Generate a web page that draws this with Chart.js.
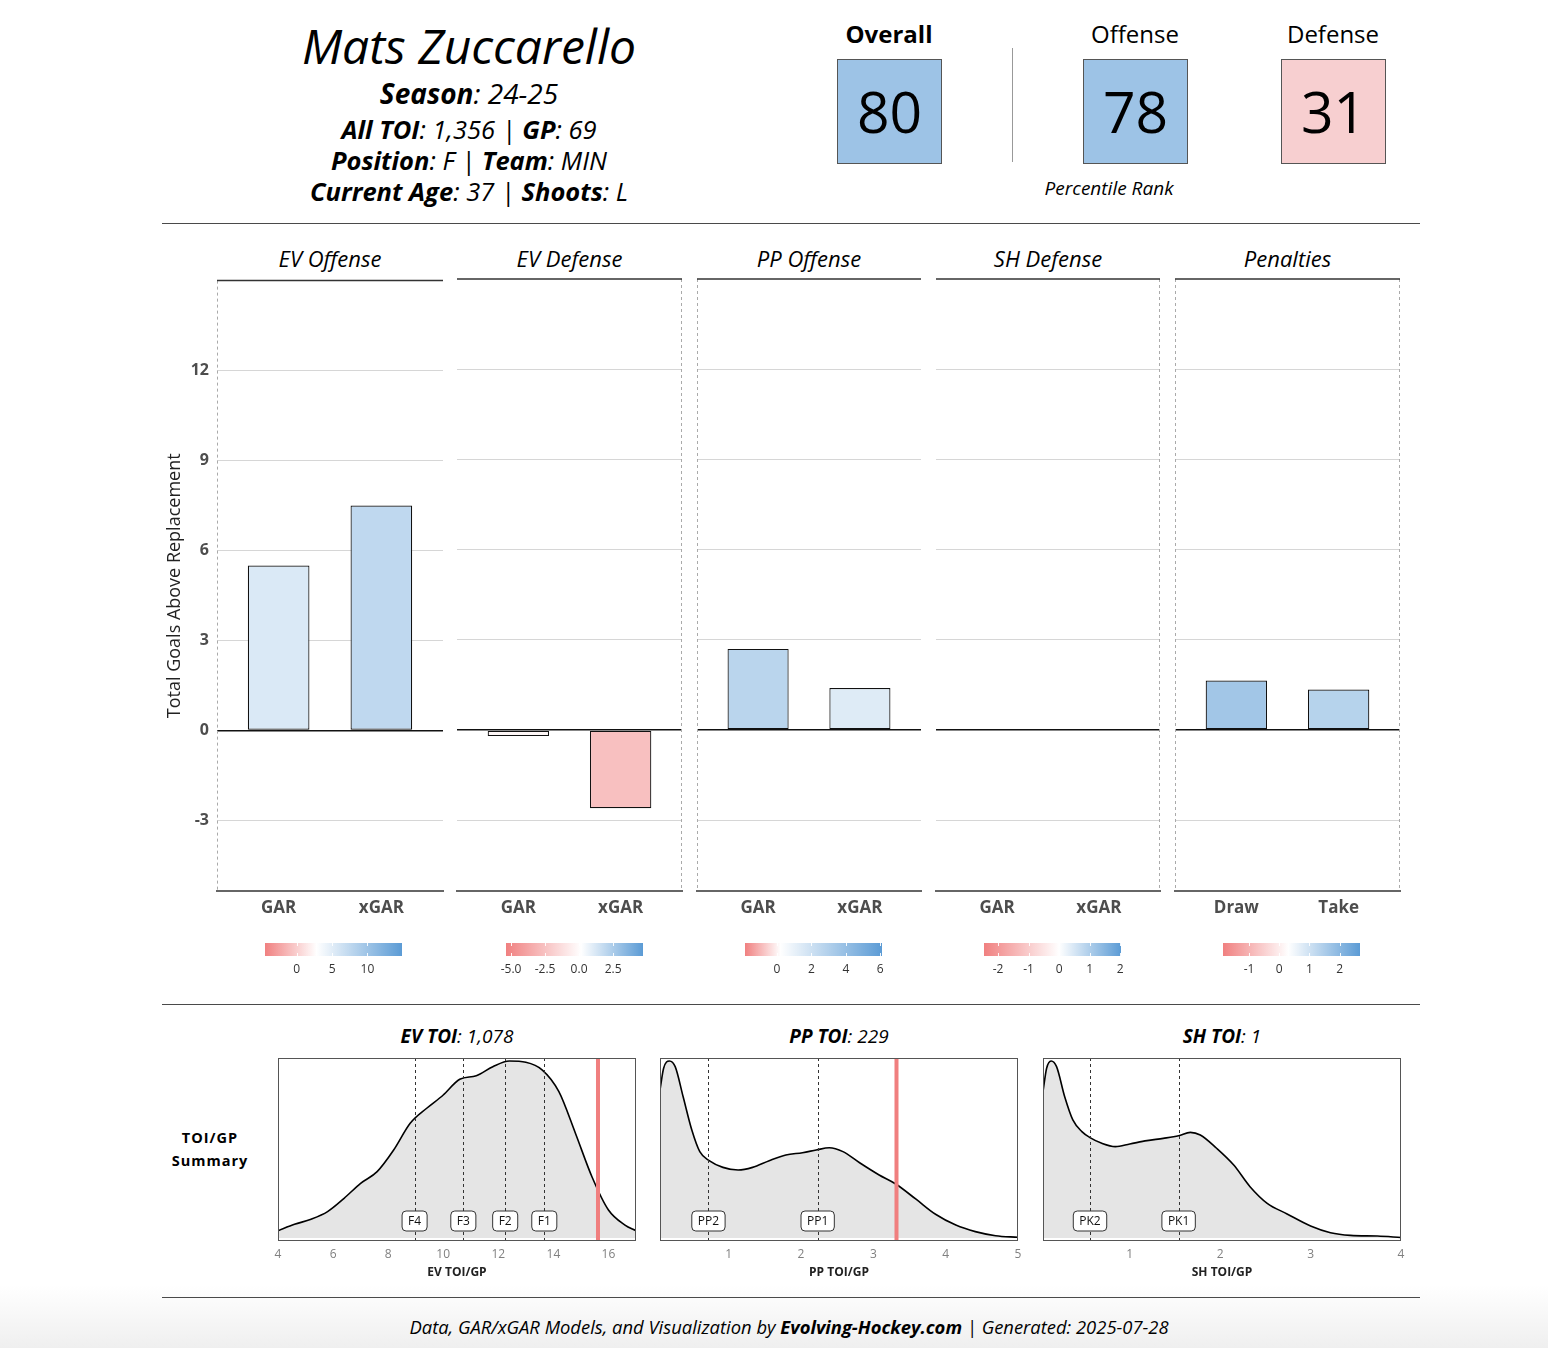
<!DOCTYPE html>
<html>
<head>
<meta charset="utf-8">
<script src="https://cdn.jsdelivr.net/npm/chart.js@4.4.0/dist/chart.umd.min.js"></script>
<style>
html, body { margin: 0; padding: 0; }
body {
  width: 1548px; height: 1348px; position: relative; overflow: hidden;
  font-family: 'Open Sans', sans-serif; color: #000;
  background: linear-gradient(to bottom, #fff 0, #fff 1285px, #efefef 1348px);
}
.c { position: absolute; transform: translateX(-50%); white-space: nowrap; line-height: 1; }
.i { font-style: italic; }
.hl { position: absolute; left: 162px; width: 1258px; height: 0; border-top: 1.5px solid #4a4a4a; }
.box { position: absolute; width: 105px; height: 105px; box-sizing: border-box; border: 1px solid #555;
  display: flex; align-items: center; justify-content: center; font-size: 57px; line-height: 1; }
canvas { position: absolute; }
</style>
</head>
<body>

<div class="c i" style="left:469px;top:22px;font-size:48px;">Mats Zuccarello</div>
<div class="c i" style="left:469px;top:79px;font-size:28px;"><b>Season</b>: 24-25</div>
<div class="c i" style="left:469px;top:117px;font-size:25.5px;"><b>All TOI</b>: 1,356 | <b>GP</b>: 69</div>
<div class="c i" style="left:469px;top:148px;font-size:25.5px;"><b>Position</b>: F | <b>Team</b>: MIN</div>
<div class="c i" style="left:469px;top:179px;font-size:25.5px;"><b>Current Age</b>: 37 | <b>Shoots</b>: L</div>

<div id="ranks"></div>
<div style="position:absolute;left:1012px;top:48px;width:0;height:114px;border-left:1.5px solid #999;"></div>
<div class="c i" style="left:1109px;top:179px;font-size:19px;">Percentile Rank</div>

<div class="hl" style="top:223px;"></div>
<div id="strips"></div>
<div class="hl" style="top:1004px;"></div>

<div class="c" style="left:210px;top:1131px;font-size:14.5px;font-weight:bold;letter-spacing:1px;">TOI/GP</div>
<div class="c" style="left:210px;top:1154px;font-size:14.5px;font-weight:bold;letter-spacing:1px;">Summary</div>
<div class="c i" style="left:457px;top:1027px;font-size:19px;"><b>EV TOI</b>: 1,078</div>
<div class="c i" style="left:839px;top:1027px;font-size:19px;"><b>PP TOI</b>: 229</div>
<div class="c i" style="left:1222px;top:1027px;font-size:19px;"><b>SH TOI</b>: 1</div>

<div class="hl" style="top:1297px;"></div>
<div class="c i" style="left:789px;top:1318px;font-size:18.4px;">Data, GAR/xGAR Models, and Visualization by <b>Evolving-Hockey.com</b> | Generated: 2025-07-28</div>

<script>
// percentile ranks
const rankLabels = ['Overall', 'Offense', 'Defense'];
const rankValues = [80, 78, 31];

// GAR components
const panelTitles = ['EV Offense', 'EV Defense', 'PP Offense', 'SH Defense', 'Penalties'];
const panelCats = [['GAR', 'xGAR'], ['GAR', 'xGAR'], ['GAR', 'xGAR'], ['GAR', 'xGAR'], ['Draw', 'Take']];
const evOffense = [5.5, 7.5];
const evDefense = [-0.2, -2.6];
const ppOffense = [2.7, 1.4];
const shDefense = [0.03, 0.02];
const penalties = [1.65, 1.35];
const yTicks = [-3, 0, 3, 6, 9, 12];

// colour legends: low end, white point, high end
const scaleMin = [-4.5, -5.37, -1.86, -2.46, -1.86];
const scaleMid = [2.8, 0.15, 0.2, 0, 0.3];
const scaleMax = [14.9, 4.7, 6.1, 2.03, 2.67];
const scaleTicks = [[0, 5, 10], [-5, -2.5, 0, 2.5], [0, 2, 4, 6], [-2, -1, 0, 1, 2], [-1, 0, 1, 2]];
const scaleTickLabels = [['0', '5', '10'], ['-5.0', '-2.5', '0.0', '2.5'], ['0', '2', '4', '6'], ['-2', '-1', '0', '1', '2'], ['-1', '0', '1', '2']];

// TOI/GP densities
const evToiX = [4.0, 4.6, 5.2, 5.8, 6.4, 7.0, 7.6, 8.2, 8.8, 9.4, 10.0, 10.6, 11.2, 11.8, 12.4, 13.0, 13.6, 14.2, 14.8, 15.4, 16.0, 16.6, 17.0];
const evDensity = [0.041, 0.077, 0.106, 0.149, 0.224, 0.309, 0.375, 0.497, 0.648, 0.733, 0.808, 0.897, 0.917, 0.968, 1.0, 0.993, 0.949, 0.827, 0.592, 0.346, 0.158, 0.073, 0.041];
const evTicks = [4, 6, 8, 10, 12, 14, 16];
const evLineLabels = ['F4', 'F3', 'F2', 'F1'];
const evLineValues = [8.96, 10.73, 12.25, 13.67];
const evPlayer = 15.62;

const ppToiX = [0.05, 0.10, 0.18, 0.26, 0.37, 0.49, 0.60, 0.73, 0.92, 1.13, 1.33, 1.56, 1.79, 2.02, 2.21, 2.39, 2.58, 2.81, 3.08, 3.31, 3.59, 3.86, 4.14, 4.41, 4.69, 5.0];
const ppDensity = [0.836, 0.959, 1.0, 0.968, 0.798, 0.610, 0.488, 0.437, 0.399, 0.384, 0.399, 0.437, 0.469, 0.482, 0.497, 0.510, 0.488, 0.425, 0.356, 0.305, 0.219, 0.134, 0.073, 0.036, 0.013, 0.004];
const ppTicks = [1, 2, 3, 4, 5];
const ppLineLabels = ['PP2', 'PP1'];
const ppLineValues = [0.72, 2.23];
const ppPlayer = 3.32;

const shToiX = [0.04, 0.08, 0.13, 0.19, 0.28, 0.37, 0.47, 0.56, 0.69, 0.84, 1.00, 1.19, 1.37, 1.54, 1.67, 1.78, 1.96, 2.15, 2.33, 2.52, 2.74, 3.00, 3.22, 3.44, 3.74, 4.00];
const shDensity = [0.827, 0.959, 1.0, 0.968, 0.798, 0.667, 0.601, 0.567, 0.535, 0.516, 0.531, 0.550, 0.563, 0.578, 0.597, 0.582, 0.507, 0.412, 0.290, 0.196, 0.136, 0.068, 0.030, 0.015, 0.011, 0.003];
const shTicks = [1, 2, 3, 4];
const shLineLabels = ['PK2', 'PK1'];
const shLineValues = [0.56, 1.54];
const shPlayer = 0.014;

Chart.defaults.font.family = "'Open Sans', sans-serif";

const redEnd = [240, 128, 128];
const blueEnd = [91, 155, 213];
function scaleColor(i, v) {
  const mid = scaleMid[i];
  let t, end;
  if (v >= mid) { t = Math.min(1, (v - mid) / (scaleMax[i] - mid)); end = blueEnd; }
  else { t = Math.min(1, (mid - v) / (mid - scaleMin[i])); end = redEnd; }
  const c = end.map(e => Math.round(255 + (e - 255) * t));
  return 'rgb(' + c.join(',') + ')';
}

function makeCanvas(left, top, w, h) {
  const cv = document.createElement('canvas');
  cv.width = w; cv.height = h;
  cv.style.left = left + 'px'; cv.style.top = top + 'px';
  cv.style.width = w + 'px'; cv.style.height = h + 'px';
  document.body.appendChild(cv);
  return cv;
}

// header rank boxes
const rankX = [889, 1135, 1333];
const ranks = document.getElementById('ranks');
rankLabels.forEach((lab, k) => {
  const t = document.createElement('div');
  t.className = 'c';
  t.style.cssText = 'left:' + rankX[k] + 'px;top:22px;font-size:24px;' + (k === 0 ? 'font-weight:bold;' : '');
  t.textContent = lab;
  ranks.appendChild(t);
  const b = document.createElement('div');
  b.className = 'box';
  b.style.left = (rankX[k] - 52) + 'px';
  b.style.top = '59px';
  b.style.background = rankValues[k] >= 50 ? '#9dc3e6' : '#f7cfd0';
  b.textContent = rankValues[k];
  ranks.appendChild(b);
});

// bar panels
const panelLeft = [217, 457, 697, 936, 1175];
const panelRight = [443, 682, 921, 1160, 1400];
const dashedSides = [[true, false], [false, true], [true, false], [false, true], [true, true]];
const panelValues = [evOffense, evDefense, ppOffense, shDefense, penalties];

const strips = document.getElementById('strips');
panelTitles.forEach((t, i) => {
  const d = document.createElement('div');
  d.className = 'c i';
  d.style.cssText = 'left:' + ((panelLeft[i] + panelRight[i]) / 2) + 'px;top:247px;font-size:22px;';
  d.textContent = t;
  strips.appendChild(d);
});

function framePlugin(sides) {
  return {
    id: 'frame',
    afterDraw(chart) {
      const ctx = chart.ctx, a = chart.chartArea;
      ctx.save();
      ctx.strokeStyle = '#aaaaaa';
      ctx.lineWidth = 1;
      ctx.setLineDash([3, 3]);
      if (sides[0]) { ctx.beginPath(); ctx.moveTo(a.left + 0.5, a.top); ctx.lineTo(a.left + 0.5, a.bottom); ctx.stroke(); }
      if (sides[1]) { ctx.beginPath(); ctx.moveTo(a.right - 0.5, a.top); ctx.lineTo(a.right - 0.5, a.bottom); ctx.stroke(); }
      ctx.setLineDash([]);
      ctx.strokeStyle = '#333';
      ctx.lineWidth = 1.5;
      ctx.beginPath(); ctx.moveTo(a.left, a.top); ctx.lineTo(a.right, a.top); ctx.stroke();
      ctx.restore();
    }
  };
}

function barPanel(i) {
  const first = i === 0;
  const axisW = first ? 53 : 0;
  const padL = 2, padR = 2, padT = 16, axisH = 40;
  const L = panelLeft[i], R = panelRight[i];
  const cv = makeCanvas(L - axisW - padL, 279 - padT, (R - L) + axisW + padL + padR, padT + 612 + axisH);
  const vals = panelValues[i];
  const cats = panelCats[i];
  new Chart(cv, {
    type: 'bar',
    data: {
      datasets: [{
        data: vals.map((v, k) => ({ x: k + 1, y: v })),
        backgroundColor: vals.map(v => scaleColor(i, v)),
        borderColor: '#111',
        borderWidth: 1.2,
        borderSkipped: false,
        barPercentage: 0.6,
        categoryPercentage: 1
      }]
    },
    options: {
      responsive: false,
      animation: false,
      events: [],
      layout: { padding: { left: padL, right: padR, top: padT, bottom: 0 } },
      plugins: { legend: { display: false }, tooltip: { enabled: false } },
      scales: {
        x: {
          type: 'linear', min: 0.4, max: 2.6, offset: false,
          afterBuildTicks: s => { s.ticks = [{ value: 1 }, { value: 2 }]; },
          ticks: { callback: v => cats[v - 1], font: { size: 17, weight: 'bold' }, color: '#4d4d4d', padding: 7, maxRotation: 0, autoSkip: false },
          grid: { display: false, drawTicks: false },
          border: { display: true, color: '#666', width: 2 },
          afterFit: s => { s.height = axisH; }
        },
        y: {
          type: 'linear', min: -5.35, max: 15,
          afterBuildTicks: s => { s.ticks = yTicks.map(v => ({ value: v })); },
          ticks: { display: first, font: { size: 16, weight: 'bold' }, color: '#4d4d4d', padding: 8 },
          grid: {
            drawTicks: false,
            color: c => c.tick.value === 0 ? '#111' : '#d6d6d6',
            lineWidth: c => c.tick.value === 0 ? 1.6 : 1
          },
          border: { display: false },
          title: { display: first, text: 'Total Goals Above Replacement', font: { size: 18 }, color: '#222', padding: 0 },
          afterFit: s => { s.width = axisW; }
        }
      }
    },
    plugins: [framePlugin(dashedSides[i])]
  });
}

// colour legends
const legendLeft = [265, 506, 745, 984, 1223];
function colorBar(i) {
  const W = 137, pad = 12, barH = 13, axisH = 24;
  const cv = makeCanvas(legendLeft[i] - pad, 943, W + 2 * pad, barH + axisH);
  new Chart(cv, {
    type: 'scatter',
    data: { datasets: [{ data: [] }] },
    options: {
      responsive: false,
      animation: false,
      events: [],
      layout: { padding: { left: pad, right: pad, top: 0, bottom: 0 } },
      plugins: { legend: { display: false }, tooltip: { enabled: false } },
      scales: {
        x: {
          type: 'linear', min: scaleMin[i], max: scaleMax[i],
          afterBuildTicks: s => { s.ticks = scaleTicks[i].map(v => ({ value: v })); },
          ticks: { callback: (v, k) => scaleTickLabels[i][k], font: { size: 12 }, color: '#333', padding: 6, maxRotation: 0, autoSkip: false },
          grid: { display: false, drawTicks: false },
          border: { display: false },
          afterFit: s => { s.height = axisH; }
        },
        y: { display: false, min: 0, max: 1 }
      }
    },
    plugins: [{
      id: 'gradient',
      beforeDatasetsDraw(chart) {
        const ctx = chart.ctx, a = chart.chartArea, xs = chart.scales.x;
        const x0 = xs.getPixelForValue(scaleMin[i]), x1 = xs.getPixelForValue(scaleMax[i]);
        const g = ctx.createLinearGradient(x0, 0, x1, 0);
        g.addColorStop(0, 'rgb(' + redEnd.join(',') + ')');
        g.addColorStop((scaleMid[i] - scaleMin[i]) / (scaleMax[i] - scaleMin[i]), '#ffffff');
        g.addColorStop(1, 'rgb(' + blueEnd.join(',') + ')');
        ctx.save();
        ctx.fillStyle = g;
        ctx.fillRect(a.left, a.top, a.width, a.height);
        ctx.strokeStyle = 'rgba(255,255,255,0.9)';
        ctx.lineWidth = 1;
        scaleTicks[i].forEach(v => {
          const px = Math.round(xs.getPixelForValue(v)) + 0.5;
          ctx.beginPath(); ctx.moveTo(px, a.top); ctx.lineTo(px, a.top + 3); ctx.stroke();
          ctx.beginPath(); ctx.moveTo(px, a.bottom - 3); ctx.lineTo(px, a.bottom); ctx.stroke();
        });
        ctx.restore();
      }
    }]
  });
}

// density panels
function densityPanel(boxLeft, xs, ys, ticks, title, lineLabels, lineValues, player) {
  const W = 358, pad = 12, padT = 8, plotH = 183, axisH = 39;
  const xmin = xs[0], xmax = xs[xs.length - 1];
  const cv = makeCanvas(boxLeft - pad, 1058 - padT, W + 2 * pad, padT + plotH + axisH);
  new Chart(cv, {
    type: 'line',
    data: {
      datasets: [{
        data: xs.map((x, k) => ({ x: x, y: ys[k] })),
        borderColor: '#000',
        borderWidth: 1.6,
        backgroundColor: '#e5e5e5',
        fill: { value: 0 },
        pointRadius: 0,
        cubicInterpolationMode: 'monotone'
      }]
    },
    options: {
      responsive: false,
      animation: false,
      events: [],
      layout: { padding: { left: pad, right: pad, top: padT, bottom: 0 } },
      plugins: { legend: { display: false }, tooltip: { enabled: false } },
      scales: {
        x: {
          type: 'linear', min: xmin, max: xmax,
          afterBuildTicks: s => { s.ticks = ticks.map(v => ({ value: v })); },
          ticks: { font: { size: 12 }, color: '#808080', padding: 6, maxRotation: 0, autoSkip: false },
          grid: { display: false, drawTicks: false },
          border: { display: false },
          title: { display: true, text: title, font: { size: 12, weight: 'bold' }, color: '#222', padding: { top: 3, bottom: 0 } },
          afterFit: s => { s.height = axisH; }
        },
        y: { display: false, min: -0.017, max: 1.017 }
      }
    },
    plugins: [{
      id: 'markers',
      afterDatasetsDraw(chart) {
        const ctx = chart.ctx, a = chart.chartArea, sx = chart.scales.x;
        ctx.save();
        ctx.strokeStyle = '#333';
        ctx.lineWidth = 1;
        ctx.setLineDash([3, 3]);
        lineValues.forEach(v => {
          const px = Math.round(sx.getPixelForValue(v)) + 0.5;
          ctx.beginPath(); ctx.moveTo(px, a.top); ctx.lineTo(px, a.bottom); ctx.stroke();
        });
        ctx.setLineDash([]);
        if (player >= xmin && player <= xmax) {
          const px = sx.getPixelForValue(player);
          ctx.strokeStyle = '#f07f7f';
          ctx.lineWidth = 4;
          ctx.beginPath(); ctx.moveTo(px, a.top); ctx.lineTo(px, a.bottom); ctx.stroke();
        }
        ctx.font = "12px 'Open Sans', sans-serif";
        ctx.textAlign = 'center';
        ctx.textBaseline = 'middle';
        lineLabels.forEach((lab, k) => {
          const px = sx.getPixelForValue(lineValues[k]);
          const py = a.bottom - 20;
          const w = ctx.measureText(lab).width + 12, h = 20;
          ctx.beginPath();
          ctx.roundRect(px - w / 2, py - h / 2, w, h, 4);
          ctx.fillStyle = '#fff';
          ctx.fill();
          ctx.strokeStyle = '#333';
          ctx.lineWidth = 1;
          ctx.stroke();
          ctx.fillStyle = '#111';
          ctx.fillText(lab, px, py + 0.5);
        });
        ctx.strokeStyle = '#555';
        ctx.lineWidth = 1;
        ctx.strokeRect(a.left + 0.5, a.top + 0.5, a.width - 1, a.height - 1);
        ctx.restore();
      }
    }]
  });
}

for (let i = 0; i < 5; i++) { barPanel(i); colorBar(i); }
densityPanel(278, evToiX, evDensity, evTicks, 'EV TOI/GP', evLineLabels, evLineValues, evPlayer);
densityPanel(660, ppToiX, ppDensity, ppTicks, 'PP TOI/GP', ppLineLabels, ppLineValues, ppPlayer);
densityPanel(1043, shToiX, shDensity, shTicks, 'SH TOI/GP', shLineLabels, shLineValues, shPlayer);
</script>
</body>
</html>
